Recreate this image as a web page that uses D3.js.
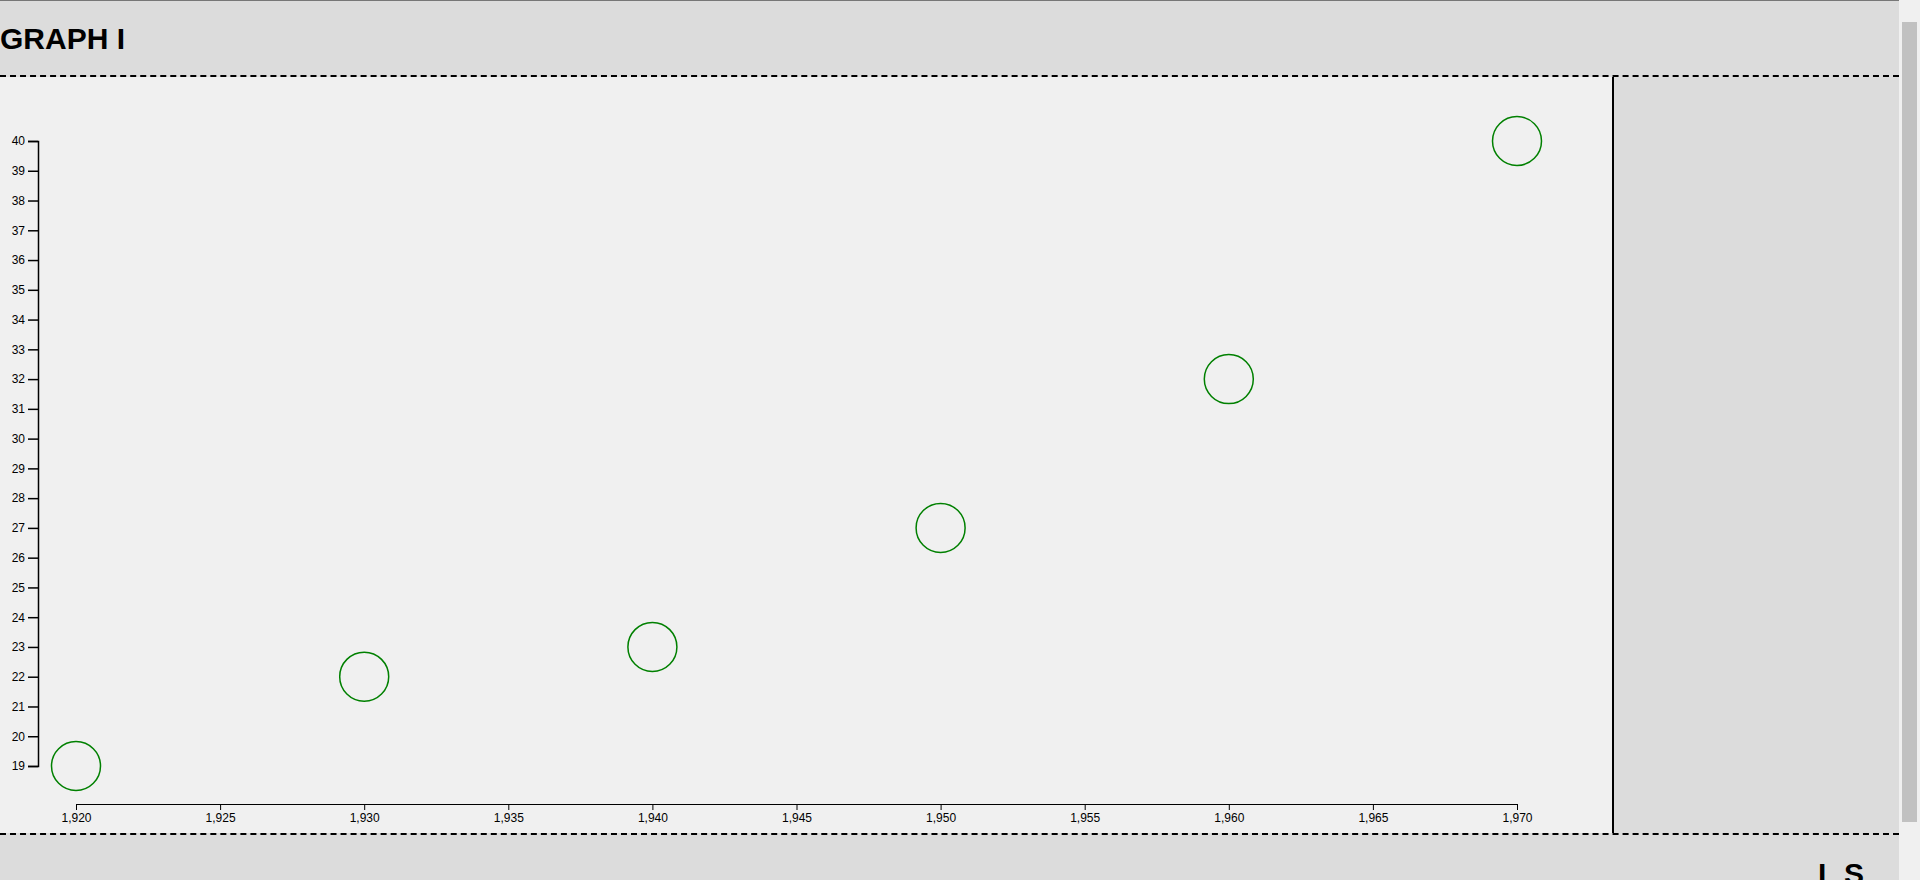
<!DOCTYPE html>
<html lang="en">
<head>
<meta charset="UTF-8">
<title>GRAPH I</title>
<script src="https://cdn.jsdelivr.net/npm/d3@7"></script>
<style>
    html, body { margin: 0; padding: 0; overflow: hidden; background: #dcdcdc; font-family: "Liberation Sans", Arial, sans-serif; }
    .topline { position: absolute; left: 0; top: 0; width: 1899px; height: 1px; background: #777; }
    .header { position: absolute; left: 0; top: 1px; width: 1899px; height: 74px; background: #dcdcdc; border-bottom: 2px dashed #000; }
    .header h1 { margin: 0; position: absolute; left: 0; top: 21px; font-size: 30px; font-weight: bold; }
    .main { position: absolute; left: 0; top: 77px; width: 1612px; height: 756px; background: #f0f0f0; border-right: 2px solid #000; }
    .side { position: absolute; left: 1614px; top: 77px; width: 285px; height: 756px; background: #dcdcdc; }
    .footer { position: absolute; left: 0; top: 833px; width: 1899px; height: 60px; background: #dcdcdc; border-top: 2px dashed #000; overflow: hidden; }
    .footer h1 { margin: 0; position: absolute; left: 1818px; top: 22px; font-size: 30px; font-weight: bold; }
    .scroll { position: absolute; left: 1899px; top: 0; width: 21px; height: 880px; background: #f0f0f0; }
    .thumb { position: absolute; left: 3px; top: 22px; width: 15px; height: 800px; background: #c1c1c1; }
    svg { position: absolute; left: 0; top: 0; }
    .tick text { font-size: 12px; font-family: "Liberation Sans", Arial, sans-serif; }
    .yaxis path, .yaxis line { stroke-width: 1.5; }
</style>
</head>
<body>
<div class="topline"></div>
<div class="header"><h1>GRAPH I</h1></div>
<div class="main"><svg width="1612" height="756"></svg></div>
<div class="side"></div>
<div class="footer"><h1>L S</h1></div>
<div class="scroll"><div class="thumb"></div></div>

<script>
    var years = [1920, 1930, 1940, 1950, 1960, 1970];
    var values = [19, 22, 23, 27, 32, 40];

    var svg = d3.select(".main svg");
    // offsets inside the main panel (panel starts at y=77)
    var x = d3.scaleLinear().domain([1920, 1970]).range([76, 1517]);
    var y = d3.scaleLinear().domain([19, 40]).range([766 - 77, 141 - 77]);

    svg.append("g")
        .attr("transform", "translate(0," + (804 - 77) + ")")
        .call(d3.axisBottom(x).ticks(10).tickSizeOuter(0));

    svg.append("g")
        .attr("class", "yaxis")
        .attr("transform", "translate(38,0)")
        .call(d3.axisLeft(y).ticks(21).tickSize(10).tickFormat(d3.format("d")));

    svg.selectAll("circle")
        .data(years)
        .enter().append("circle")
        .attr("cx", function (d) { return x(d); })
        .attr("cy", function (d, i) { return y(values[i]); })
        .attr("r", 24.5)
        .attr("fill", "none")
        .attr("stroke", "green")
        .attr("stroke-width", 1.5);
</script>
</body>
</html>
